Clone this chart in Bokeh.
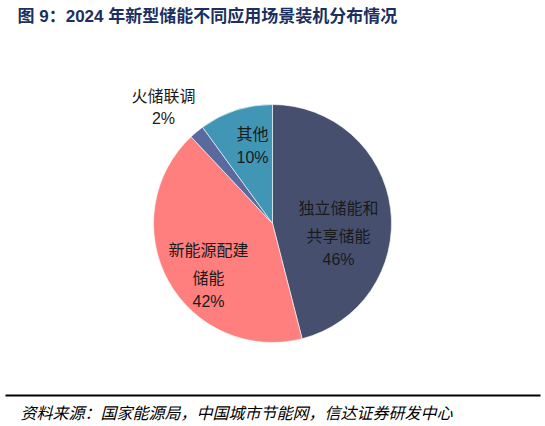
import math
from bokeh.plotting import figure
from bokeh.models import ColumnDataSource, Range1d
from bokeh.core.properties import value
from bokeh.embed import file_html
from bokeh.resources import INLINE

categories = ["独立储能和共享储能", "新能源配建储能", "火储联调", "其他"]
shares = [46, 42, 2, 10]
colors = ["#474F6E", "#FF7F7F", "#5B6A9E", "#4096B4"]
label_lines = [["独立储能和", "共享储能", "46%"], ["新能源配建", "储能", "42%"], ["火储联调", "2%"], ["其他", "10%"]]

title_text = "图 9：2024 年新型储能不同应用场景装机分布情况"
source_text = "资料来源：国家能源局，中国城市节能网，信达证券研发中心"

W, H = 545, 426
FONT = "Liberation Sans, Noto Sans CJK SC"
CJK = "Noto Sans CJK SC"

def fx(px):
    return px

def fy(py):
    return H - py

p = figure(width=W, height=H, output_backend="svg", toolbar_location=None,
           x_axis_type=None, y_axis_type=None, min_border=0,
           x_range=Range1d(0, W), y_range=Range1d(0, H))
p.grid.visible = False
p.outline_line_color = None
p.background_fill_color = "white"
p.border_fill_color = "white"

# pie
cx, cy, r = 272, 223, 119
total = sum(shares)
starts, ends = [], []
cum = 0
for s in shares:
    starts.append(math.pi / 2 - 2 * math.pi * cum / total)
    cum += s
    ends.append(math.pi / 2 - 2 * math.pi * cum / total)
src = ColumnDataSource(dict(start=starts, end=ends, color=colors, cat=categories))
p.wedge(x=fx(cx), y=fy(cy), radius=r, start_angle="start", end_angle="end",
        direction="clock", fill_color="color", line_color="white", line_width=0.6, source=src)

# labels (positions in page px)
label_pos = [[(338, 208), (338, 236), (338, 259)],
             [(208, 250), (208, 278), (208, 301)],
             [(163, 96), (163, 118)],
             [(252, 134), (252, 157)]]
lx, ly, lt = [], [], []
for lines, poss in zip(label_lines, label_pos):
    for t, (x, y) in zip(lines, poss):
        lx.append(fx(x)); ly.append(fy(y)); lt.append(t)
p.text(x=lx, y=ly, text=lt, text_font=value(FONT), text_font_size="16px",
       text_color="#1a1a1a", text_align="center", text_baseline="middle")

# title
p.text(x=[fx(17)], y=[fy(16)], text=[title_text], text_font=value(FONT),
       text_font_size="17px", text_font_style="bold", text_color="#1C2F5E",
       text_align="left", text_baseline="middle")

# bottom rule
p.segment(x0=[fx(5)], y0=[fy(395)], x1=[fx(540)], y1=[fy(395)], line_color="black", line_width=2)

# source
p.text(x=[fx(20)], y=[fy(411)], text=[source_text], text_font=value(CJK),
       text_font_size="16px", text_font_style="italic", text_color="#000000",
       text_align="left", text_baseline="middle")

open("out.html", "w").write(file_html(p, INLINE))
